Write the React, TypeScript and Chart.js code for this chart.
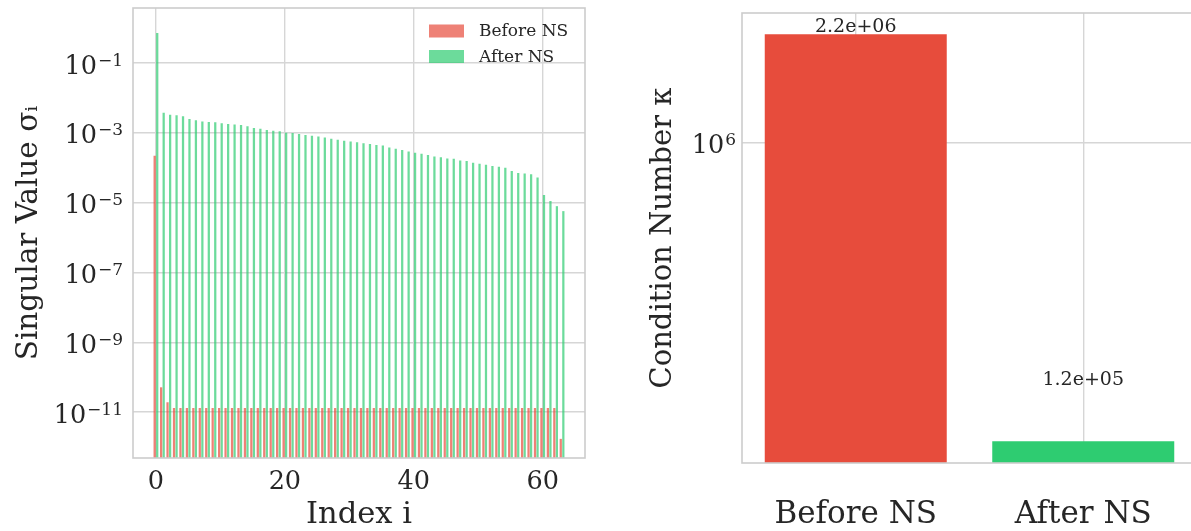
import React, { useEffect, useRef } from 'react';
import { Chart, registerables } from 'chart.js';

Chart.register(...registerables);

// ---------- data ----------
const indices = [
  0, 1, 2, 3, 4, 5, 6, 7, 8, 9, 10, 11, 12, 13, 14, 15, 16, 17, 18, 19, 20, 21, 22, 23, 24, 25, 26, 27, 28, 29, 30, 31,
  32, 33, 34, 35, 36, 37, 38, 39, 40, 41, 42, 43, 44, 45, 46, 47, 48, 49, 50, 51, 52, 53, 54, 55, 56, 57, 58, 59, 60, 61, 62, 63,
];

const beforeNS = [
  2.2e-4, 5.1e-11, 1.9e-11, 1.3e-11, 1.3e-11, 1.3e-11, 1.3e-11, 1.3e-11, 1.3e-11, 1.3e-11, 1.3e-11, 1.3e-11, 1.3e-11, 1.3e-11, 1.3e-11, 1.3e-11,
  1.3e-11, 1.3e-11, 1.3e-11, 1.3e-11, 1.3e-11, 1.3e-11, 1.3e-11, 1.3e-11, 1.3e-11, 1.3e-11, 1.3e-11, 1.3e-11, 1.3e-11, 1.3e-11, 1.3e-11, 1.3e-11,
  1.3e-11, 1.3e-11, 1.3e-11, 1.3e-11, 1.3e-11, 1.3e-11, 1.3e-11, 1.3e-11, 1.3e-11, 1.3e-11, 1.3e-11, 1.3e-11, 1.3e-11, 1.3e-11, 1.3e-11, 1.3e-11,
  1.3e-11, 1.3e-11, 1.3e-11, 1.3e-11, 1.3e-11, 1.3e-11, 1.3e-11, 1.3e-11, 1.3e-11, 1.3e-11, 1.3e-11, 1.3e-11, 1.3e-11, 1.3e-11, 1.3e-11, 1.7e-12,
];

const afterNS = [
  0.72, 3.77e-3, 3.3e-3, 3.2e-3, 2.97e-3, 2.5e-3, 2.3e-3, 2.1e-3, 2.05e-3, 2.0e-3, 1.87e-3, 1.8e-3, 1.74e-3, 1.66e-3, 1.55e-3, 1.37e-3,
  1.31e-3, 1.2e-3, 1.15e-3, 1.1e-3, 1.0e-3, 9.8e-4, 9.3e-4, 8.7e-4, 8.3e-4, 7.8e-4, 7.3e-4, 6.8e-4, 6.3e-4, 5.9e-4, 5.6e-4, 5.4e-4,
  5.0e-4, 4.8e-4, 4.5e-4, 4.3e-4, 3.8e-4, 3.5e-4, 3.2e-4, 2.9e-4, 2.7e-4, 2.5e-4, 2.3e-4, 2.1e-4, 2.0e-4, 1.85e-4, 1.8e-4, 1.62e-4,
  1.55e-4, 1.38e-4, 1.3e-4, 1.22e-4, 1.12e-4, 1.07e-4, 1.0e-4, 8.1e-5, 7.1e-5, 6.8e-5, 6.5e-5, 5.2e-5, 1.66e-5, 1.12e-5, 7.9e-6, 5.7e-6,
];

const seriesLabels = ['Before NS', 'After NS'];
const leftXTicks = [0, 20, 40, 60];
const leftYTickValues = [1e-1, 1e-3, 1e-5, 1e-7, 1e-9, 1e-11];
const leftYTickExponents = ['−1', '−3', '−5', '−7', '−9', '−11'];

const conditionCategories = ['Before NS', 'After NS'];
const conditionValues = [2.18e6, 1.17e5];
const conditionValueLabels = ['2.2e+06', '1.2e+05'];
const rightYTickValues = [1e6];
const rightYTickExponents = ['6'];
const tickBase = '10';

// ---------- style ----------
const FONT = '"DejaVu Serif", serif';
const TEXT = '#262626';
const GRID = '#d6d6d6';
const SPINE = '#cccccc';
const RED_A = 'rgba(231,76,60,0.7)';
const GREEN_A = 'rgba(46,204,113,0.7)';
const RED = '#e74c3c';
const GREEN = '#2ecc71';

const framePlugin = {
  id: 'frame',
  afterDatasetsDraw(chart: any) {
    const { ctx, chartArea } = chart;
    ctx.save();
    ctx.strokeStyle = SPINE;
    ctx.lineWidth = 1.6;
    ctx.strokeRect(chartArea.left, chartArea.top, chartArea.right - chartArea.left, chartArea.bottom - chartArea.top);
    ctx.restore();
  },
};

// power-of-ten tick labels (base + raised exponent), placed through the y scale
const expTickPlugin = {
  id: 'expTicks',
  afterDraw(chart: any, _args: any, opts: any) {
    const { ctx, chartArea } = chart;
    const scale = chart.scales.y;
    ctx.save();
    ctx.fillStyle = TEXT;
    ctx.textBaseline = 'alphabetic';
    ctx.textAlign = 'left';
    opts.values.forEach((v: number, i: number) => {
      const y = scale.getPixelForValue(v);
      ctx.font = `17px ${FONT}`;
      const ew = ctx.measureText(opts.exponents[i]).width;
      ctx.font = `25.5px ${FONT}`;
      const bw = ctx.measureText(tickBase).width;
      const right = chartArea.left - opts.gap;
      const x0 = right - ew - bw - 1;
      ctx.fillText(tickBase, x0, y + 10.5);
      ctx.font = `17px ${FONT}`;
      ctx.fillText(opts.exponents[i], x0 + bw + 1, y + 2.5);
    });
    ctx.restore();
  },
};

const insideLegendPlugin = {
  id: 'insideLegend',
  afterDraw(chart: any) {
    const { ctx, chartArea } = chart;
    ctx.save();
    ctx.font = `17px ${FONT}`;
    ctx.textBaseline = 'middle';
    ctx.textAlign = 'left';
    chart.data.datasets.forEach((ds: any, i: number) => {
      const cy = chartArea.top + 23 + i * 25.5;
      const x0 = chartArea.right - 156;
      ctx.fillStyle = ds.backgroundColor;
      ctx.fillRect(x0, cy - 6.5, 35, 13);
      ctx.fillStyle = TEXT;
      ctx.fillText(ds.label, x0 + 50, cy + 1);
    });
    ctx.restore();
  },
};

const valueLabelPlugin = {
  id: 'valueLabels',
  afterDatasetsDraw(chart: any, _args: any, opts: any) {
    const { ctx } = chart;
    const meta = chart.getDatasetMeta(0);
    const yScale = chart.scales.y;
    ctx.save();
    ctx.font = `19px ${FONT}`;
    ctx.fillStyle = TEXT;
    ctx.textAlign = 'center';
    ctx.textBaseline = 'alphabetic';
    meta.data.forEach((el: any, i: number) => {
      const y = yScale.getPixelForValue(conditionValues[i] * opts.factors[i]);
      ctx.fillText(conditionValueLabels[i], el.x, y);
    });
    ctx.restore();
  },
};

const noPad = (s: any) => {
  s.paddingTop = 0;
  s.paddingBottom = 0;
  s.paddingLeft = 0;
  s.paddingRight = 0;
};

function LeftChart() {
  const ref = useRef<HTMLCanvasElement | null>(null);
  useEffect(() => {
    const chart = new Chart(ref.current as HTMLCanvasElement, {
      type: 'bar',
      data: {
        datasets: [
          {
            label: seriesLabels[0],
            data: indices.map((x, i) => ({ x, y: beforeNS[i] })),
            backgroundColor: RED_A,
            borderWidth: 0,
            categoryPercentage: 0.8,
            barPercentage: 0.875,
          },
          {
            label: seriesLabels[1],
            data: indices.map((x, i) => ({ x, y: afterNS[i] })),
            backgroundColor: GREEN_A,
            borderWidth: 0,
            categoryPercentage: 0.8,
            barPercentage: 0.875,
          },
        ],
      } as any,
      options: {
        responsive: false,
        animation: false,
        devicePixelRatio: 1,
        layout: { padding: { left: 0, right: 55, top: 8, bottom: 0 } },
        plugins: {
          legend: { display: false },
          tooltip: { enabled: false },
          expTicks: { values: leftYTickValues, exponents: leftYTickExponents, gap: 10 },
        } as any,
        scales: {
          x: {
            type: 'linear',
            min: -3.56,
            max: 66.56,
            offset: false,
            grid: { color: GRID, lineWidth: 1.4, drawTicks: false, offset: false },
            border: { display: false },
            ticks: { font: { family: FONT, size: 25.5 }, color: TEXT, padding: 9, autoSkip: false, maxRotation: 0 },
            title: { display: true, text: 'Index i', font: { family: FONT, size: 30.5 }, color: TEXT, padding: { top: 0, bottom: -2 } },
            afterBuildTicks: (s: any) => {
              s.ticks = leftXTicks.map((v) => ({ value: v }));
            },
            afterFit: (s: any) => {
              s.height = 73;
              noPad(s);
            },
          },
          y: {
            type: 'logarithmic',
            min: Math.pow(10, -12.318),
            max: Math.pow(10, 0.576),
            grid: { color: GRID, lineWidth: 1.4, drawTicks: false },
            border: { display: false },
            ticks: { display: false, autoSkip: false },
            title: { display: true, text: 'Singular Value σᵢ', font: { family: FONT, size: 29.5 }, color: TEXT, padding: { top: 12, bottom: 0 } },
            afterBuildTicks: (s: any) => {
              s.ticks = leftYTickValues.map((v) => ({ value: v }));
            },
            afterFit: (s: any) => {
              s.width = 133;
              noPad(s);
            },
          },
        },
      } as any,
      plugins: [framePlugin, insideLegendPlugin, expTickPlugin],
    });
    return () => chart.destroy();
  }, []);
  return <canvas ref={ref} width={640} height={531} style={{ position: 'absolute', left: 0, top: 0, width: 640, height: 531 }} />;
}

function RightChart() {
  const ref = useRef<HTMLCanvasElement | null>(null);
  useEffect(() => {
    const chart = new Chart(ref.current as HTMLCanvasElement, {
      type: 'bar',
      data: {
        labels: conditionCategories,
        datasets: [
          {
            label: 'Condition Number κ',
            data: conditionValues,
            backgroundColor: [RED, GREEN],
            borderWidth: 0,
            categoryPercentage: 1,
            barPercentage: 0.8,
          },
        ],
      },
      options: {
        responsive: false,
        animation: false,
        devicePixelRatio: 1,
        layout: { padding: { left: 0, right: 3, top: 13, bottom: 0 } },
        plugins: {
          legend: { display: false },
          tooltip: { enabled: false },
          valueLabels: { factors: [1.015, 1.5] },
          expTicks: { values: rightYTickValues, exponents: rightYTickExponents, gap: 6 },
        } as any,
        scales: {
          x: {
            type: 'category',
            offset: true,
            grid: { color: GRID, lineWidth: 1.4, drawTicks: false, offset: false },
            border: { display: false },
            ticks: { font: { family: FONT, size: 31 }, color: TEXT, padding: 33, autoSkip: false, maxRotation: 0 },
            afterFit: (s: any) => {
              s.height = 68;
              noPad(s);
            },
          },
          y: {
            type: 'logarithmic',
            min: 1e5,
            max: 2.54e6,
            grid: { color: GRID, lineWidth: 1.4, drawTicks: false },
            border: { display: false },
            ticks: { display: false, autoSkip: false },
            title: { display: true, text: 'Condition Number κ', font: { family: FONT, size: 29 }, color: TEXT, padding: { top: 6, bottom: 0 } },
            afterBuildTicks: (s: any) => {
              s.ticks = rightYTickValues.map((v) => ({ value: v }));
            },
            afterFit: (s: any) => {
              s.width = 102;
              noPad(s);
            },
          },
        },
      } as any,
      plugins: [framePlugin, valueLabelPlugin, expTickPlugin],
    });
    return () => chart.destroy();
  }, []);
  return <canvas ref={ref} width={560} height={531} style={{ position: 'absolute', left: 640, top: 0, width: 560, height: 531 }} />;
}

export default function App() {
  return (
    <div style={{ position: 'fixed', left: 0, top: 0, width: 1191, height: 531, overflow: 'hidden', background: '#ffffff' }}>
      <LeftChart />
      <RightChart />
    </div>
  );
}
